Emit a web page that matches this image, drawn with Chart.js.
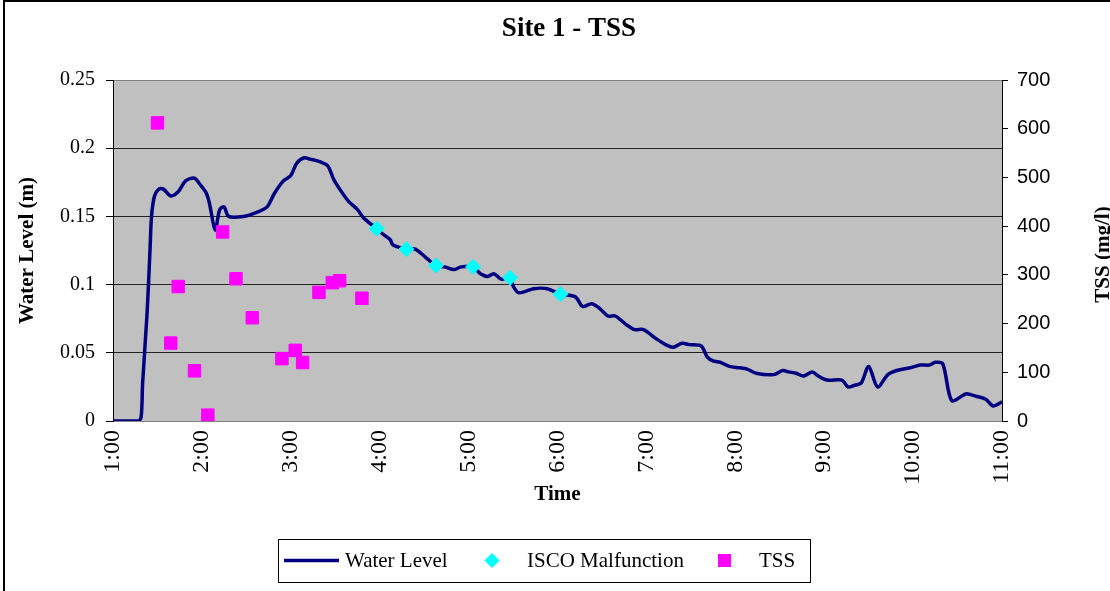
<!DOCTYPE html>
<html>
<head>
<meta charset="utf-8">
<script src="https://cdn.jsdelivr.net/npm/chart.js@4.4.1/dist/chart.umd.min.js"></script>
<style>
  html, body { margin: 0; padding: 0; background: #fff; }
  #wrap { width: 1110px; height: 591px; }
</style>
</head>
<body>
<div id="wrap"><canvas id="chart" width="1110" height="591"></canvas></div>
<script>
// Water level record (time of day, metres)
const levelTimes = [
  "1:00","1:17","1:19","1:20","1:23","1:25","1:26","1:28","1:31","1:34",
  "1:39","1:44","1:49","1:55","1:59","2:03","2:05","2:09","2:12","2:15",
  "2:18","2:28","2:37","2:44","2:49","2:55","3:00","3:04","3:09","3:13",
  "3:20","3:25","3:29","3:33","3:39","3:45","3:49","3:58","4:01","4:07",
  "4:09","4:18","4:24","4:32","4:38","4:44","4:50","4:55","5:03","5:08",
  "5:13","5:17","5:22","5:28","5:30","5:34","5:44","5:53","6:02","6:12",
  "6:17","6:23","6:28","6:34","6:39","6:46","6:52","6:58","7:07","7:13",
  "7:18","7:24","7:29","7:37","7:41","7:45","7:50","7:56","8:03","8:08",
  "8:14","8:26","8:32","8:36","8:41","8:46","8:52","8:56","9:02","9:12",
  "9:16","9:20","9:25","9:30","9:36","9:43","9:49","9:58","10:05","10:11",
  "10:15","10:20","10:26","10:34","10:36","10:43","10:49","10:54","11:00"
];
const levelValues = [
  0, 0, 0.003, 0.028, 0.079, 0.126, 0.150, 0.165, 0.170, 0.170,
  0.165, 0.168, 0.176, 0.178, 0.173, 0.167, 0.160, 0.140, 0.155, 0.157,
  0.150, 0.150, 0.153, 0.157, 0.167, 0.176, 0.180, 0.189, 0.193, 0.192,
  0.190, 0.187, 0.177, 0.170, 0.161, 0.155, 0.149, 0.141, 0.138, 0.133,
  0.129, 0.126, 0.126, 0.119, 0.114, 0.113, 0.111, 0.113, 0.113, 0.108,
  0.106, 0.108, 0.104, 0.105, 0.099, 0.094, 0.097, 0.097, 0.093, 0.091,
  0.084, 0.086, 0.083, 0.077, 0.077, 0.071, 0.067, 0.067, 0.060, 0.056,
  0.054, 0.057, 0.056, 0.055, 0.047, 0.044, 0.043, 0.040, 0.039, 0.038,
  0.035, 0.034, 0.037, 0.036, 0.035, 0.033, 0.036, 0.033, 0.030, 0.030,
  0.025, 0.026, 0.028, 0.040, 0.025, 0.034, 0.037, 0.039, 0.041, 0.041,
  0.043, 0.042, 0.015, 0.019, 0.020, 0.018, 0.016, 0.011, 0.014
];

// Samples lost to the ISCO sampler malfunction (plotted on the water level)
const iscoTimes  = ["3:58", "4:18", "4:38", "5:03", "5:28", "6:02"];
const iscoValues = [0.141, 0.126, 0.114, 0.113, 0.105, 0.093];

// Total suspended solids (mg/l)
const tssTimes  = ["1:30","1:39","1:44","1:55","2:04","2:14","2:23","2:34","2:54","3:03","3:08","3:19","3:28","3:33","3:48"];
const tssValues = [612, 160, 276, 103, 12, 388, 292, 212, 128, 145, 120, 264, 284, 288, 252];

// Axis tick labels
const hourLabels = ["1:00","2:00","3:00","4:00","5:00","6:00","7:00","8:00","9:00","10:00","11:00"];

const toHours = t => { const [h, m] = t.split(":").map(Number); return h + m / 60; };
const pairs = (times, values) => times.map((t, i) => ({ x: toHours(t), y: values[i] }));

const SERIF = "'Liberation Serif', 'Times New Roman', serif";
const SANS = "'Liberation Sans', Arial, sans-serif";

// Plot backdrop, outer frame, chart title, legend and right-hand axis title
const decorations = {
  id: 'decorations',
  beforeDraw(chart) {
    const { ctx, chartArea: a, width, height } = chart;
    ctx.save();
    ctx.fillStyle = '#ffffff';
    ctx.fillRect(0, 0, width, height);
    ctx.fillStyle = '#c0c0c0';
    ctx.fillRect(a.left, a.top, a.right - a.left, a.bottom - a.top);
    ctx.strokeStyle = '#000000';
    ctx.lineWidth = 2;
    ctx.beginPath();
    ctx.moveTo(4, height);
    ctx.lineTo(4, 1);
    ctx.lineTo(width, 1);
    ctx.stroke();
    ctx.restore();
  },
  afterDraw(chart) {
    const { ctx, chartArea: a, width } = chart;
    const ds = chart.data.datasets;
    ctx.save();
    ctx.fillStyle = '#000';

    // chart title
    ctx.font = "bold 27px " + SERIF;
    ctx.textAlign = 'center';
    ctx.textBaseline = 'middle';
    ctx.fillText('Site 1 - TSS', 569, 29);

    // right axis title, reading bottom to top
    ctx.translate(width - 6, (a.top + a.bottom) / 2 + 4);
    ctx.rotate(-Math.PI / 2);
    ctx.font = "bold 21px " + SERIF;
    ctx.fillText('TSS (mg/l)', 0, 0);
    ctx.setTransform(1, 0, 0, 1, 0, 0);

    // legend box
    const bx = 278, by = 539, bw = 532, bh = 43, cy = by + bh / 2;
    ctx.fillStyle = '#ffffff';
    ctx.fillRect(bx, by, bw, bh);
    ctx.strokeStyle = '#000000';
    ctx.lineWidth = 1;
    ctx.strokeRect(bx + 0.5, by + 0.5, bw, bh);

    ctx.font = "21px " + SERIF;
    ctx.textAlign = 'left';
    ctx.textBaseline = 'middle';
    ctx.fillStyle = '#000';

    // Water Level
    ctx.strokeStyle = ds[0].borderColor;
    ctx.lineWidth = ds[0].borderWidth;
    ctx.beginPath();
    ctx.moveTo(bx + 6, cy);
    ctx.lineTo(bx + 61, cy);
    ctx.stroke();
    ctx.fillText('Water Level', bx + 67, cy + 1);

    // ISCO Malfunction
    ctx.fillStyle = ds[1].backgroundColor;
    const dx = bx + 214, r = 7.5;
    ctx.beginPath();
    ctx.moveTo(dx, cy - r); ctx.lineTo(dx + r, cy); ctx.lineTo(dx, cy + r); ctx.lineTo(dx - r, cy);
    ctx.closePath();
    ctx.fill();
    ctx.fillStyle = '#000';
    ctx.fillText('ISCO Malfunction', bx + 249, cy + 1);

    // TSS
    ctx.fillStyle = ds[2].backgroundColor;
    ctx.fillRect(bx + 440, cy - 6.5, 13, 13);
    ctx.fillStyle = '#000';
    ctx.fillText('TSS', bx + 481, cy + 1);

    ctx.restore();
  }
};

new Chart(document.getElementById('chart'), {
  type: 'scatter',
  data: {
    datasets: [
      {
        label: 'Water Level',
        type: 'line',
        data: pairs(levelTimes, levelValues),
        yAxisID: 'y',
        borderColor: '#000080',
        borderWidth: 3.5,
        pointRadius: 0,
        tension: 0.3,
        fill: false,
        order: 3
      },
      {
        label: 'ISCO Malfunction',
        data: pairs(iscoTimes, iscoValues),
        yAxisID: 'y',
        pointStyle: 'rectRot',
        pointRadius: 7.5,
        backgroundColor: '#00ffff',
        borderColor: '#00ffff',
        borderWidth: 1,
        order: 1
      },
      {
        label: 'TSS',
        data: pairs(tssTimes, tssValues),
        yAxisID: 'y1',
        pointStyle: 'rect',
        pointRadius: 8.8,
        backgroundColor: '#ff00ff',
        borderColor: '#ff00ff',
        borderWidth: 1,
        order: 2
      }
    ]
  },
  options: {
    responsive: false,
    animation: false,
    devicePixelRatio: 1,
    layout: { padding: { top: 80, left: 0, right: 0, bottom: 0 } },
    plugins: {
      legend: { display: false },
      tooltip: { enabled: false },
      title: { display: false }
    },
    scales: {
      x: {
        type: 'linear',
        min: 1,
        max: 11,
        afterFit: s => { s.height = 170; },
        afterBuildTicks: s => { s.ticks = hourLabels.map(toHours).map(v => ({ value: v })); },
        ticks: {
          autoSkip: false,
          minRotation: 90,
          maxRotation: 90,
          padding: 9,
          color: '#000',
          font: { family: SERIF, size: 24 },
          callback: v => hourLabels.find(l => toHours(l) === v) || ''
        },
        grid: { display: false, drawTicks: false },
        border: { display: true, color: '#808080', width: 1 },
        title: {
          display: true,
          text: 'Time',
          color: '#000',
          font: { family: SERIF, size: 21, weight: 'bold' },
          padding: { top: 0, bottom: 84 }
        }
      },
      y: {
        position: 'left',
        min: 0,
        max: 0.25,
        afterFit: s => { s.width = 113; },
        ticks: {
          stepSize: 0.05,
          padding: 11,
          color: '#000',
          font: { family: SERIF, size: 20 },
          callback: v => String(+Number(v).toFixed(2))
        },
        grid: {
          color: c => (c.tick && (c.tick.value === 0 || Math.abs(c.tick.value - 0.25) < 1e-9)) ? '#808080' : '#222222',
          tickColor: '#000',
          tickLength: 7,
          lineWidth: 1
        },
        border: { display: true, color: '#000', width: 1 },
        title: {
          display: true,
          text: 'Water Level (m)',
          color: '#000',
          font: { family: SERIF, size: 21, weight: 'bold' },
          padding: { top: 15, bottom: 0 }
        }
      },
      y1: {
        position: 'right',
        min: 0,
        max: 700,
        afterFit: s => { s.width = 108; },
        ticks: {
          stepSize: 100,
          padding: 9,
          color: '#000',
          font: { family: SANS, size: 20 }
        },
        grid: {
          drawOnChartArea: false,
          color: '#000',
          tickLength: 6,
          lineWidth: 1
        },
        border: { display: true, color: '#000', width: 1 }
      }
    }
  },
  plugins: [decorations]
});
</script>
</body>
</html>
